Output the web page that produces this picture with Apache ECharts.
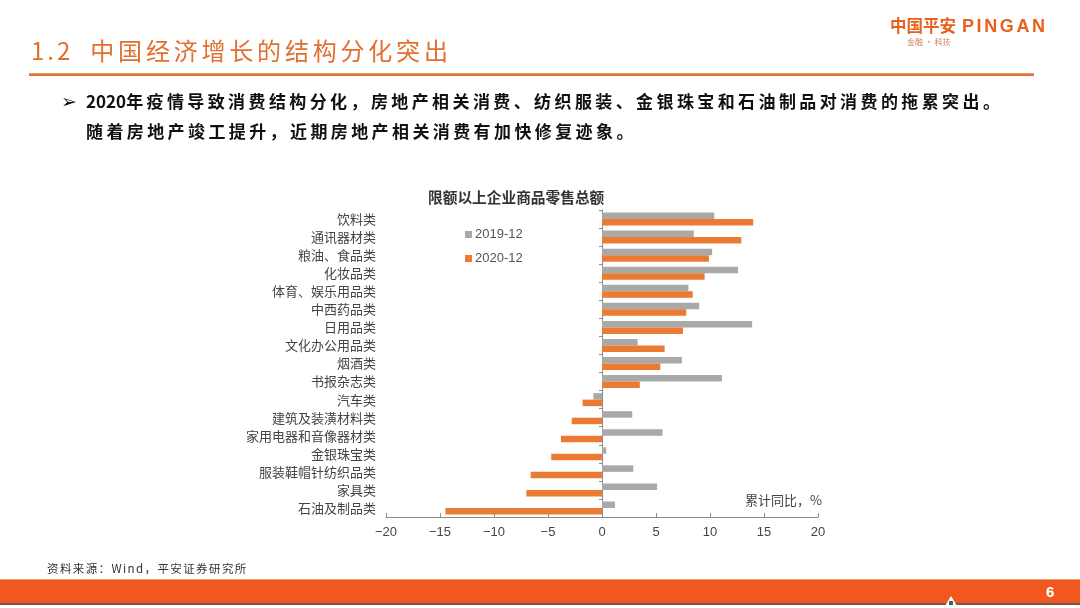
<!DOCTYPE html>
<html>
<head>
<meta charset="utf-8">
<script src="https://cdn.jsdelivr.net/npm/echarts@6/dist/echarts.min.js"></script>
<style>
  html, body { margin: 0; padding: 0; background: #fff; }
  #page { position: relative; width: 1080px; height: 608px; overflow: hidden; background: #fff;
          font-family: "Noto Sans CJK SC", "Noto Sans", sans-serif; }
  #chart { position: absolute; left: 0; top: 0; width: 1080px; height: 608px; }
  .abs { position: absolute; white-space: nowrap; }
  #heading { left: 31px; top: 36px; font-size: 24px; line-height: 28px; color: #E07030; }
  #heading .num { letter-spacing: 3px; }
  #heading .cjk { letter-spacing: 3.8px; margin-left: 17px; }
  #hline { left: 29px; top: 73px; width: 1005px; height: 3px; background: linear-gradient(#E89B6A, #D9651F); }
  .body { font-size: 17px; line-height: 30px; color: #111; font-weight: bold; }
  .body .c { letter-spacing: 3.4px; }
  #arrow { left: 61px; top: 86px; font-size: 19px; line-height: 30px; color: #111; font-weight: bold; font-family: "DejaVu Sans", sans-serif; }
  #l1 { left: 86px; top: 86px; }
  #l2 { left: 86px; top: 116px; }
  #logo1 { left: 890px; top: 13px; font-size: 16.5px; line-height: 24px; color: #E8601C; font-weight: bold; }
  #logo1 .en { font-family: "Liberation Sans", sans-serif; margin-left: 6px; font-size: 18px; letter-spacing: 2.6px; }
  #logo2 { left: 907px; top: 37px; font-size: 8px; line-height: 10px; color: #C88060; }
  #source { left: 47px; top: 560px; font-size: 11.5px; line-height: 16px; color: #333; letter-spacing: 1.4px; }
  #bar { left: 0; top: 579px; width: 1080px; height: 24px; background: #F0581F; border-top: 1px solid #F2A070; box-sizing: border-box; }
  #barline { left: 0; top: 603px; width: 1080px; height: 2px; background: #7A5540; }
  #pnum { left: 1046px; top: 582px; font-size: 15px; line-height: 20px; color: #fff; font-weight: bold; font-family: "Liberation Sans", sans-serif; }
  #icon { left: 945px; top: 596px; width: 0; height: 0; border-left: 6px solid transparent; border-right: 6px solid transparent; border-bottom: 10px solid #fff; }
  #icon2 { left: 949px; top: 601px; width: 4px; height: 4px; background: #1F6E6A; }
</style>
</head>
<body>
<div id="page">
  <div id="chart"></div>
  <div class="abs" id="heading"><span class="num">1.2</span><span class="cjk">中国经济增长的结构分化突出</span></div>
  <div class="abs" id="hline"></div>
  <div class="abs" id="arrow">➢</div>
  <div class="abs body" id="l1"><span>2020</span><span class="c">年疫情导致消费结构分化，房地产相关消费、纺织服装、金银珠宝和石油制品对消费的拖累突出。</span></div>
  <div class="abs body" id="l2"><span class="c">随着房地产竣工提升，近期房地产相关消费有加快修复迹象。</span></div>
  <div class="abs" id="logo1">中国平安<span class="en">PINGAN</span></div>
  <div class="abs" id="logo2">金融 · 科技</div>
  <div class="abs" id="source">资料来源：Wind，平安证券研究所</div>
  <div class="abs" id="bar"></div>
  <div class="abs" id="barline"></div>
  <div class="abs" id="pnum">6</div>
  <div class="abs" id="icon"></div>
  <div class="abs" id="icon2"></div>
</div>
<script>
const categories = ['饮料类', '通讯器材类', '粮油、食品类', '化妆品类', '体育、娱乐用品类', '中西药品类', '日用品类',
  '文化办公用品类', '烟酒类', '书报杂志类', '汽车类', '建筑及装潢材料类', '家用电器和音像器材类', '金银珠宝类',
  '服装鞋帽针纺织品类', '家具类', '石油及制品类'];
const seriesNames = ['2019-12', '2020-12'];
const values2019 = [10.4, 8.5, 10.2, 12.6, 8.0, 9.0, 13.9, 3.3, 7.4, 11.1, -0.8, 2.8, 5.6, 0.4, 2.9, 5.1, 1.2];
const values2020 = [14.0, 12.9, 9.9, 9.5, 8.4, 7.8, 7.5, 5.8, 5.4, 3.5, -1.8, -2.8, -3.8, -4.7, -6.6, -7.0, -14.5];
const xTicks = { min: -20, max: 20, interval: 5 };
const chartTitle = '限额以上企业商品零售总额';
const unitLabel = '累计同比，%';

const chart = echarts.init(document.getElementById('chart'), null, { renderer: 'canvas' });
const textColor = '#444';
const axisColor = '#8C8C8C';
chart.setOption({
  animation: false,
  backgroundColor: 'transparent',
  title: {
    text: chartTitle, left: 423, top: 185,
    textStyle: { fontSize: 14.7, fontWeight: 'bold', color: '#333', fontFamily: 'Noto Sans CJK SC' }
  },
  legend: {
    orient: 'vertical', left: 460, top: 223, itemWidth: 7, itemHeight: 7, itemGap: 11,
    icon: 'rect', data: seriesNames,
    textStyle: { fontSize: 13, color: '#555', fontFamily: 'Liberation Sans, Noto Sans CJK SC', padding: [0, 0, 0, -2] }
  },
  grid: { left: 386, right: 262, top: 210, bottom: 91, containLabel: false },
  xAxis: {
    type: 'value', min: xTicks.min, max: xTicks.max, interval: xTicks.interval,
    splitLine: { show: false },
    axisLine: { show: true, onZero: false, lineStyle: { color: axisColor, width: 1 } },
    axisTick: { show: true, inside: true, length: 4, lineStyle: { color: axisColor } },
    axisLabel: {
      margin: 9, fontSize: 13, color: textColor, fontFamily: 'Liberation Sans, sans-serif',
      formatter: v => String(v).replace('-', '−')
    }
  },
  yAxis: [
    {
      type: 'category', data: categories, inverse: true, position: 'left',
      axisLine: { show: false, onZero: false }, axisTick: { show: false },
      axisLabel: { margin: 10, fontSize: 13, color: textColor, fontFamily: 'Noto Sans CJK SC' }
    },
    {
      type: 'category', data: categories, inverse: true, position: 'left',
      axisLine: { show: true, onZero: true, lineStyle: { color: axisColor, width: 1 } },
      axisTick: { show: true, length: 3, lineStyle: { color: axisColor } },
      axisLabel: { show: false }
    }
  ],
  series: [
    {
      name: seriesNames[0], type: 'bar', yAxisIndex: 0, data: values2019,
      itemStyle: { color: '#A9A9A9' }, barGap: '0%', barCategoryGap: '28%'
    },
    {
      name: seriesNames[1], type: 'bar', yAxisIndex: 0, data: values2020,
      itemStyle: { color: '#EB7A35' }, barGap: '0%', barCategoryGap: '28%'
    }
  ],
  graphic: [
    {
      type: 'text', right: 1080 - 822, top: 494,
      style: { text: unitLabel, fontSize: 13, fill: textColor, fontFamily: 'Noto Sans CJK SC' }
    }
  ]
});
</script>
</body>
</html>
